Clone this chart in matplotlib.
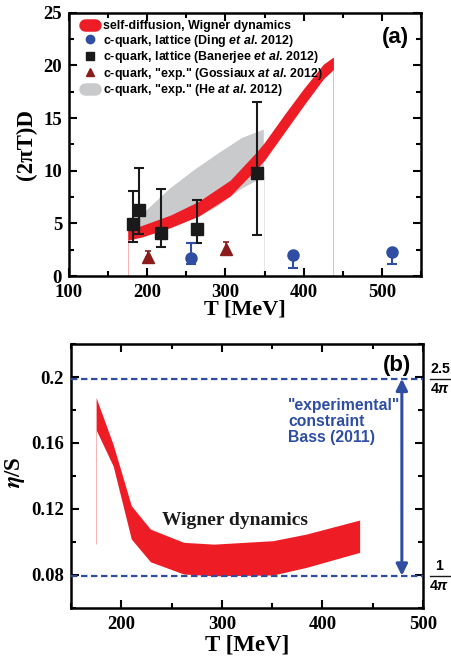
import matplotlib
matplotlib.use("Agg")
import matplotlib.pyplot as plt
from matplotlib.lines import Line2D
from matplotlib.ticker import MultipleLocator, FuncFormatter
import numpy as np

# ---- panel (a): spatial diffusion coefficient (2 pi T) D ----
T_SELF = [175, 193, 230, 266, 306, 340, 350, 375, 400, 425, 438]
D_SELF_LO = [3.4, 3.7, 4.6, 5.7, 7.6, 10.2, 11.0, 13.6, 16.2, 18.7, 19.6]
D_SELF_HI = [4.3, 4.8, 5.8, 7.1, 9.1, 11.8, 12.7, 15.3, 17.8, 20.1, 20.8]

T_HE = [186, 200, 229, 259, 290, 321, 349]
D_HE_LO = [4.0, 4.3, 4.8, 5.4, 6.6, 8.3, 9.4]
D_HE_HI = [5.2, 6.3, 8.3, 10.0, 11.6, 13.1, 13.9]

T_BAN = [182, 190, 217, 263, 340]
D_BAN = [4.9, 6.3, 4.1, 4.5, 9.8]
D_BAN_LO = [3.2, 4.0, 2.8, 3.1, 3.9]
D_BAN_HI = [8.1, 10.3, 8.3, 7.2, 16.5]

T_DING = [256, 386, 513]
D_DING = [1.75, 2.0, 2.3]
D_DING_LO = [1.1, 0.8, 1.1]
D_DING_HI = [3.1, 2.0, 2.3]

T_GOS = [201, 301]
D_GOS = [1.8, 2.6]
D_GOS_LO = [1.8, 2.2]
D_GOS_HI = [2.4, 3.2]

# ---- panel (b): shear viscosity to entropy ratio ----
T_ETA = [175, 192, 210, 229, 262, 292, 351, 384, 437]
ETA_LO = [0.168, 0.146, 0.1018, 0.088, 0.0806, 0.0795, 0.080, 0.0846, 0.0937]
ETA_HI = [0.1875, 0.159, 0.122, 0.1078, 0.0998, 0.0987, 0.1008, 0.1048, 0.1133]
KSS_LOW = 1 / (4 * np.pi)
KSS_HIGH = 2.5 / (4 * np.pi)

RED = "#ee1d25"
GREY = "#c9cacc"
BLUE = "#2f4ea3"
DARKRED = "#8c1b1b"
SANS = "Liberation Sans"
SERIF = "Liberation Serif"

plt.rcParams.update({
    "font.family": SERIF, "font.weight": "bold",
    "mathtext.fontset": "custom",
    "mathtext.rm": "Liberation Sans:bold",
    "mathtext.it": "Liberation Sans:italic:bold",
    "mathtext.bf": "Liberation Sans:bold",
    "axes.linewidth": 1.8,
})

fig = plt.figure(figsize=(4.52, 6.58), dpi=100)
ax1 = fig.add_axes([0.1527, 0.5805, 0.7788, 0.4002])
ax2 = fig.add_axes([0.157, 0.076, 0.7788, 0.4012])


def style(ax):
    ax.tick_params(which="both", direction="in", top=True, right=True,
                   width=1.5, labelsize=13.5)
    ax.tick_params(which="major", length=6)
    ax.tick_params(which="minor", length=3.5)
    ax.tick_params(axis="x", pad=6)
    ax.tick_params(axis="y", pad=5)
    for lab in ax.get_xticklabels() + ax.get_yticklabels():
        lab.set_fontweight("bold")


# --- (a) ---
ax1.fill(np.r_[T_HE, T_HE[::-1]], np.r_[D_HE_LO, D_HE_HI[::-1]],
         color=GREY, lw=0, zorder=1)
ax1.fill_between(T_SELF, D_SELF_LO, D_SELF_HI, color=RED, lw=0, zorder=2)
ax1.vlines([T_SELF[0], T_SELF[-1]], 0, [D_SELF_LO[0], D_SELF_LO[-1]],
           color="#f6b4b4", lw=0.7, zorder=1)
ax1.vlines(T_HE[-1], 0, D_HE_LO[-1], color="#e6e6e6", lw=0.7, zorder=0)

ban_err = [np.subtract(D_BAN, D_BAN_LO), np.subtract(D_BAN_HI, D_BAN)]
ax1.errorbar(T_BAN, D_BAN, yerr=ban_err, fmt="s", color="#1a1a1a", ms=8,
             elinewidth=1.5, capsize=3.5, capthick=1.5, zorder=5)
ding_err = [np.subtract(D_DING, D_DING_LO), np.subtract(D_DING_HI, D_DING)]
ax1.errorbar(T_DING, D_DING, yerr=ding_err, fmt="o", color=BLUE, ms=8,
             elinewidth=1.5, capsize=3.5, capthick=1.5, zorder=5)
gos_err = [np.subtract(D_GOS, D_GOS_LO), np.subtract(D_GOS_HI, D_GOS)]
ax1.errorbar(T_GOS, D_GOS, yerr=gos_err, fmt="^", color=DARKRED, ms=8,
             elinewidth=1.2, capsize=2.5, capthick=1.2, zorder=5)

ax1.set_xlim(100, 550)
ax1.set_ylim(0, 25)
ax1.xaxis.set_major_locator(MultipleLocator(100))
ax1.xaxis.set_minor_locator(MultipleLocator(50))
ax1.yaxis.set_major_locator(MultipleLocator(5))
ax1.yaxis.set_minor_locator(MultipleLocator(2.5))
style(ax1)
ax1.set_xlabel("T [MeV]", fontsize=16, fontweight="bold")
ax1.xaxis.set_label_coords(0.5, -0.09)
ax1.set_ylabel("(2πT)D", fontsize=16.5, fontweight="bold")
ax1.yaxis.set_label_coords(-0.092, 0.5)
ax1.text(0.965, 0.905, "(a)", transform=ax1.transAxes, ha="right", va="center",
         fontsize=16, fontweight="bold", family=SANS)

handles = [
    Line2D([0], [0], color=RED, lw=9, solid_capstyle="round"),
    Line2D([0], [0], ls="none", marker="o", color=BLUE, ms=6),
    Line2D([0], [0], ls="none", marker="s", color="#1a1a1a", ms=6),
    Line2D([0], [0], ls="none", marker="^", color=DARKRED, ms=6),
    Line2D([0], [0], color=GREY, lw=9, solid_capstyle="round"),
]
labels = [
    "self-diffusion, Wigner dynamics",
    r"c-quark, lattice (Ding $et\ al$. 2012)",
    r"c-quark, lattice (Banerjee $et\ al$. 2012)",
    r'c-quark, "exp." (Gossiaux $at\ al$. 2012)',
    r'c-quark, "exp." (He $at\ al$. 2012)',
]
ax1.legend(handles, labels, loc="upper left", bbox_to_anchor=(0.025, 1.0),
           frameon=False, prop={"family": SANS, "weight": "bold", "size": 8.9},
           handlelength=0.8, handletextpad=0.6, labelspacing=0.04,
           borderaxespad=0.3, borderpad=0.3)

# --- (b) ---
ax2.fill_between(T_ETA, ETA_LO, ETA_HI, color=RED, lw=0, zorder=2)
ax2.vlines(T_ETA[0], 0.0987, ETA_LO[0], color="#f6b4b4", lw=0.7, zorder=1)
for v in (KSS_LOW, KSS_HIGH):
    ax2.axhline(v, color=BLUE, lw=1.6, ls=(0, (2.9, 1.6)), zorder=3)
ax2.annotate("", xy=(479, KSS_HIGH), xytext=(479, KSS_LOW),
             arrowprops=dict(arrowstyle="<|-|>", color=BLUE, lw=2.2,
                             mutation_scale=17, shrinkA=0, shrinkB=0))
ax2.text(366, 0.173, '"experimental"\nconstraint\nBass (2011)', color=BLUE,
         family=SANS, fontweight="bold", fontsize=11.3, va="center",
         linespacing=1.12)
ax2.text(313, 0.113, "Wigner dynamics", fontsize=14, fontweight="bold",
         ha="center", va="center", color="#1a1a1a")
ax2.text(0.965, 0.92, "(b)", transform=ax2.transAxes, ha="right", va="center",
         fontsize=16, fontweight="bold", family=SANS)

ax2.set_xlim(150, 500)
ax2.set_ylim(0.06, 0.22)
ax2.xaxis.set_major_locator(MultipleLocator(100))
ax2.xaxis.set_minor_locator(MultipleLocator(50))
ax2.set_yticks([0.08, 0.12, 0.16, 0.2])
ax2.yaxis.set_minor_locator(MultipleLocator(0.02))
ax2.yaxis.set_major_formatter(FuncFormatter(lambda v, p: f"{v:g}"))
style(ax2)
ax2.set_xlabel("T [MeV]", fontsize=16.5, fontweight="bold")
ax2.xaxis.set_label_coords(0.5, -0.1)
ax2.set_ylabel(r"$\boldsymbol{\eta}$/S", fontsize=16.5, fontweight="bold",
               math_fontfamily="stix")
ax2.yaxis.set_label_coords(-0.125, 0.515)

# fractions on the right of panel (b)
for v, num, xc in ((KSS_HIGH, "2.5", 1.05), (KSS_LOW, "1", 1.047)):
    yax = (v - 0.06) / 0.16
    ax2.plot([1.02, 1.08], [yax, yax], transform=ax2.transAxes, color="#1a1a1a",
             lw=1.0, clip_on=False)
    ax2.text(xc, yax + 0.012, num, transform=ax2.transAxes, ha="center",
             va="bottom", family=SANS, fontweight="bold", fontsize=10.3)
    ax2.text(xc, yax - 0.012, r"4$\pi$", transform=ax2.transAxes, ha="center",
             va="top", family=SANS, fontweight="bold", fontsize=10.3)

fig.savefig("out.png", dpi=100, facecolor="white")
